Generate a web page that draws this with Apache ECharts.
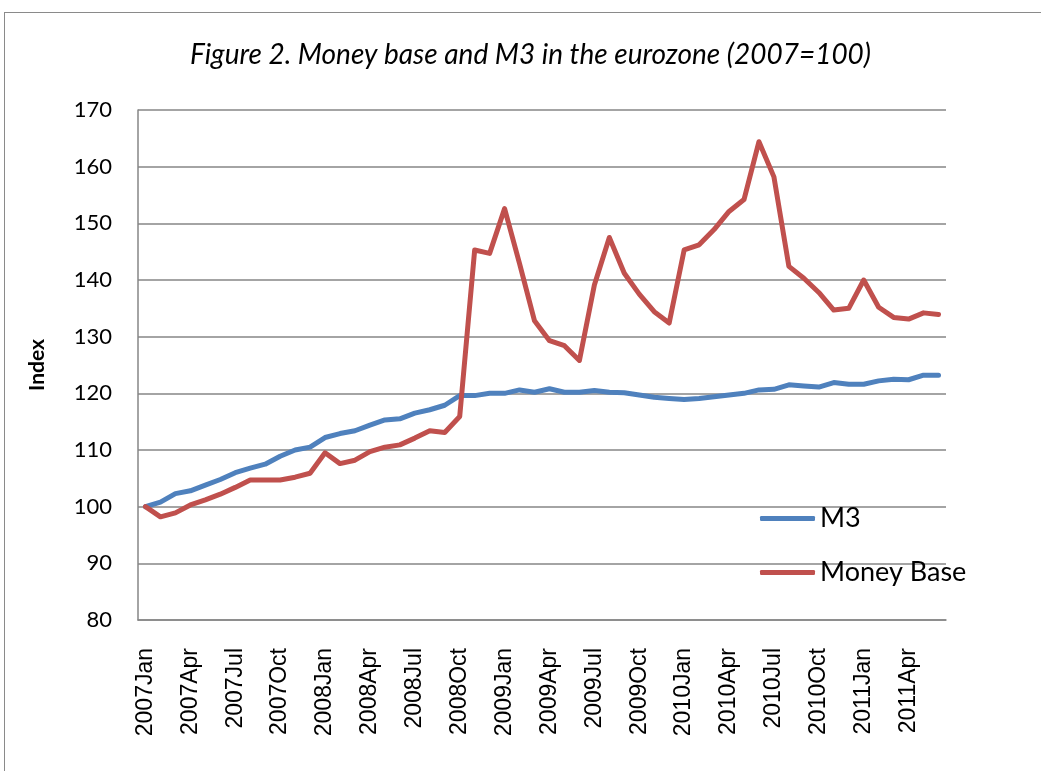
<!DOCTYPE html>
<html>
<head>
<meta charset="utf-8">
<script src="https://cdn.jsdelivr.net/npm/echarts@6/dist/echarts.min.js"></script>
<style>
  html, body { margin: 0; padding: 0; background: #fff; overflow: hidden; }
  #frame { position: absolute; left: 4px; top: 12px; width: 1100px; height: 800px; border: 1.5px solid #8a8a8a; }
  #chart { position: absolute; left: 0; top: 0; width: 1041px; height: 771px; }
</style>
</head>
<body>
<div id="frame"></div>
<div id="chart"></div>
<script>
// monthly, 2007Jan .. 2011Jun
const months = ['Jan', 'Feb', 'Mar', 'Apr', 'May', 'Jun', 'Jul', 'Aug', 'Sep', 'Oct', 'Nov', 'Dec'];
const categories = [];
for (let y = 2007; y <= 2011; y++) {
  for (let m = 0; m < 12; m++) {
    if (y === 2011 && m > 5) break;
    categories.push(y + months[m]);
  }
}

const m3 = [
  100.0, 100.8, 102.3, 102.8, 103.8, 104.8, 106.0, 106.8, 107.5, 108.9, 110.0, 110.5,
  112.2, 112.9, 113.4, 114.4, 115.3, 115.5, 116.5, 117.1, 117.9, 119.6, 119.6, 120.0,
  120.0, 120.6, 120.2, 120.8, 120.2, 120.2, 120.5, 120.2, 120.1, 119.7, 119.3, 119.1,
  118.9, 119.1, 119.4, 119.7, 120.0, 120.6, 120.7, 121.5, 121.3, 121.1, 121.9, 121.6,
  121.6, 122.2, 122.5, 122.4, 123.2, 123.2
];
const moneyBase = [
  100.0, 98.2, 98.9, 100.3, 101.2, 102.2, 103.4, 104.7, 104.7, 104.7, 105.2, 105.9,
  109.5, 107.6, 108.2, 109.7, 110.5, 110.9, 112.1, 113.4, 113.1, 115.9, 145.3, 144.7,
  152.6, 142.9, 132.8, 129.3, 128.4, 125.8, 139.1, 147.5, 141.2, 137.5, 134.4, 132.4,
  145.3, 146.2, 148.9, 152.1, 154.2, 164.4, 158.2, 142.4, 140.3, 137.8, 134.7, 135.0,
  140.0, 135.2, 133.4, 133.1, 134.2, 133.9
];

const gridColor = '#868686';
const chart = echarts.init(document.getElementById('chart'));
chart.setOption({
  animation: false,
  title: {
    text: 'Figure 2. Money base and M3 in the eurozone (2007=100)',
    left: 190, top: 36, padding: [5, 0, 5, 0],
    textStyle: { fontFamily: 'Lato', fontStyle: 'italic', fontWeight: 'normal', fontSize: 28, color: '#000' }
  },
  legend: {
    orient: 'vertical', left: 760, top: 505, padding: 0,
    icon: 'roundRect', itemWidth: 55, itemHeight: 5, itemGap: 27,
    textStyle: { fontFamily: 'Lato', fontSize: 27, color: '#000' },
    data: ['M3', 'Money Base']
  },
  grid: { left: 138, right: 95, top: 110, bottom: 151, containLabel: false },
  xAxis: {
    type: 'category', data: categories, boundaryGap: true,
    axisLine: { lineStyle: { color: gridColor, width: 1.5 } },
    axisTick: { show: false },
    axisLabel: { interval: 2, rotate: 90, margin: 28, fontFamily: 'Liberation Sans', fontSize: 23, color: '#000' }
  },
  yAxis: {
    type: 'value', min: 80, max: 170, interval: 10,
    name: 'Index', nameLocation: 'middle', nameGap: 90, nameRotate: 90,
    nameTextStyle: { fontFamily: 'Lato', fontWeight: 'bold', fontSize: 21, color: '#000' },
    axisLine: { show: true, lineStyle: { color: gridColor, width: 1.5 } },
    axisTick: { show: false },
    splitLine: { lineStyle: { color: gridColor, width: 1.5 } },
    axisLabel: { margin: 26, fontFamily: 'Lato', fontSize: 22, color: '#000' }
  },
  series: [
    { name: 'M3', type: 'line', symbol: 'none', data: m3, lineStyle: { width: 5, color: '#4F81BD', cap: 'round', join: 'round' }, itemStyle: { color: '#4F81BD' } },
    { name: 'Money Base', type: 'line', symbol: 'none', data: moneyBase, lineStyle: { width: 5, color: '#C0504D', cap: 'round', join: 'round' }, itemStyle: { color: '#C0504D' } }
  ]
});
</script>
</body>
</html>
